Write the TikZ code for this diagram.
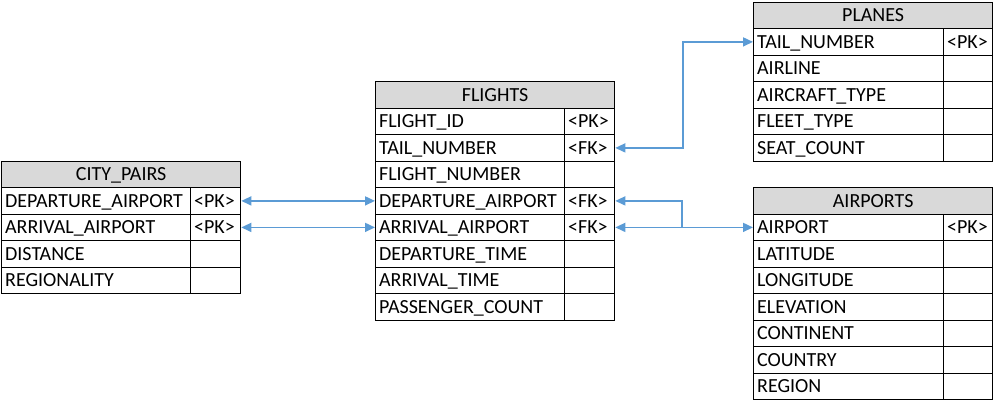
\documentclass[tikz,border=0pt]{standalone}
\usepackage{fontspec}
\setmainfont{Carlito}
\usetikzlibrary{arrows.meta}
\definecolor{hdrgray}{HTML}{D9D9D9}
\definecolor{linkblue}{HTML}{5B9BD5}
\newcommand{\cellfont}{\fontsize{20}{24}\selectfont}
\newcommand{\ErdTable}[7]{% prefix, x, y, name width, key width, title, rows
  \pgfmathsetmacro\erdtw{#4+#5}
  \node[hdr, minimum width=\erdtw pt] (#1-h) at (#2,#3) {#6};
  \foreach \nm/\ky [count=\i] in {#7} {
    \pgfmathsetmacro\erdyy{#3+\i*26.5}
    \pgfmathsetmacro\erdnt{#4-7}
    \pgfmathsetmacro\erdkt{#5-7}
    \node[cell, text width=\erdnt pt] (#1-\i) at (#2,\erdyy) {\nm};
    \node[cell, text width=\erdkt pt] (#1-k\i) at (#2+#4,\erdyy) {\ky};
  }
}
\tikzset{
  cell/.style={draw, line width=1.3pt, anchor=north west, minimum height=26.5pt,
    inner xsep=3.5pt, inner ysep=0pt, text height=13pt, text depth=0pt,
    align=left, font=\cellfont},
  hdr/.style={draw, fill=hdrgray, line width=1.3pt, anchor=north west, minimum height=26.5pt,
    inner xsep=3.5pt, inner ysep=0pt, text height=13pt, text depth=0pt,
    align=center, font=\cellfont},
  conn/.style={draw=linkblue, line width=1.6pt},
  >={Triangle[length=10pt,width=9pt]}
}
\begin{document}
\begin{tikzpicture}[x=1pt,y=-1pt]
\useasboundingbox (0,0) rectangle (994,402);
\ErdTable{cp}{1}{160.5}{189}{50}{CITY\_PAIRS}{DEPARTURE\_AIRPORT/<PK>, ARRIVAL\_AIRPORT/<PK>, DISTANCE/{}, REGIONALITY/{}}
\ErdTable{f}{375}{81}{189}{50}{FLIGHTS}{FLIGHT\_ID/<PK>, TAIL\_NUMBER/<FK>, FLIGHT\_NUMBER/{}, DEPARTURE\_AIRPORT/<FK>, ARRIVAL\_AIRPORT/<FK>, DEPARTURE\_TIME/{}, ARRIVAL\_TIME/{}, PASSENGER\_COUNT/{}}
\ErdTable{p}{753}{1.5}{190}{49}{PLANES}{TAIL\_NUMBER/<PK>, AIRLINE/{}, AIRCRAFT\_TYPE/{}, FLEET\_TYPE/{}, SEAT\_COUNT/{}}
\ErdTable{a}{753}{187}{190}{49}{AIRPORTS}{AIRPORT/<PK>, LATITUDE/{}, LONGITUDE/{}, ELEVATION/{}, CONTINENT/{}, COUNTRY/{}, REGION/{}}
\coordinate (bendP) at (683,0);
\coordinate (bendA) at (682,0);
\draw[conn,<->] (cp-k1.east) -- (f-1.west |- cp-k1.east);
\draw[conn,<->] (cp-k2.east) -- (f-2.west |- cp-k2.east);
\draw[conn,<->] (f-k2.east) -- (f-k2.east -| bendP) |- (p-1.west);
\draw[conn,<->] (f-k5.east) -- (a-1.west);
\draw[conn,->] (f-k5.east -| bendA) |- (f-k4.east);
\end{tikzpicture}
\end{document}
